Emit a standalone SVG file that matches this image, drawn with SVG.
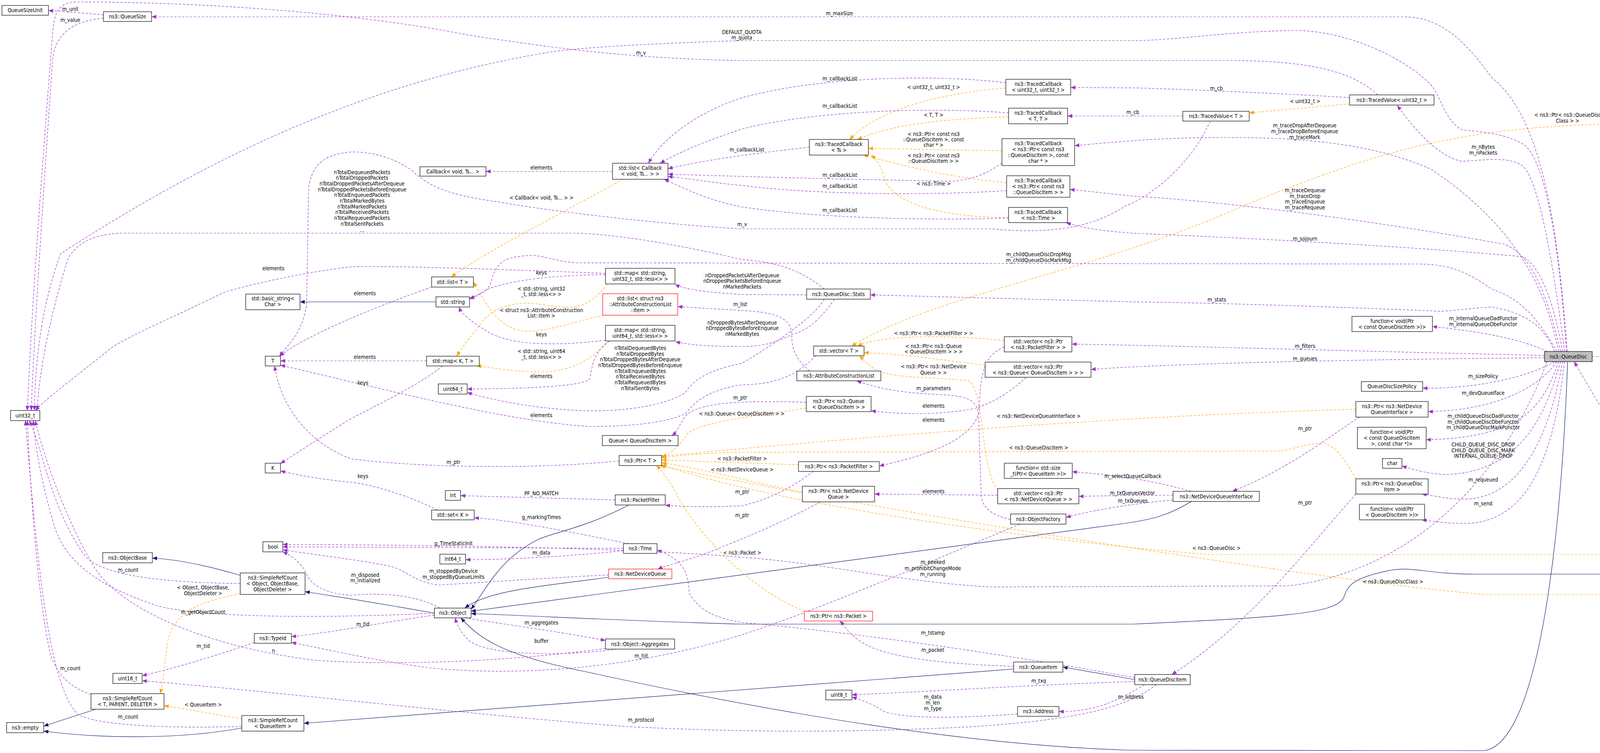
<svg xmlns="http://www.w3.org/2000/svg" width="5300" height="1928" viewBox="0 0 5300 1928">
<style>
text{font-family:"DejaVu Sans Condensed","DejaVu Sans","Liberation Sans",sans-serif;font-stretch:condensed;font-size:13.5px;fill:#000;text-anchor:middle}
.n rect{fill:#fff;stroke:#000;stroke-width:1.2}
.n.red rect{stroke:#ff0000}
.n.cur rect{fill:#bfbfbf}
.p{fill:none;stroke:#9a32cd;stroke-width:1.2;stroke-dasharray:6,4;marker-end:url(#ap)}
.o{fill:none;stroke:#ffa500;stroke-width:1.2;stroke-dasharray:6,4;marker-end:url(#ao)}
.b{fill:none;stroke:#191970;stroke-width:1.2;marker-end:url(#ab)}
</style>
<defs>
<marker id="ap" viewBox="0 0 12 10" refX="12" refY="5" markerWidth="12" markerHeight="10" markerUnits="userSpaceOnUse" orient="auto"><path d="M0,0 L12,5 L0,10z" fill="#9a32cd"/></marker>
<marker id="ao" viewBox="0 0 12 10" refX="12" refY="5" markerWidth="12" markerHeight="10" markerUnits="userSpaceOnUse" orient="auto"><path d="M0,0 L12,5 L0,10z" fill="#ffa500"/></marker>
<marker id="ab" viewBox="0 0 12 10" refX="12" refY="5" markerWidth="12" markerHeight="10" markerUnits="userSpaceOnUse" orient="auto"><path d="M0,0 L12,5 L0,10z" fill="#191970"/></marker>
</defs>
<rect width="5300" height="1928" fill="#fff"/>
<g id="edges">
<path class="b" d="M615,1473 C520,1445 450,1432 390,1429"/>
<path class="b" d="M1112,1570 C1000,1550 880,1530 781,1515"/>
<path class="b" d="M245,1816 L112,1859"/>
<path class="b" d="M619,1864 C450,1895 250,1890 112,1872"/>
<path class="b" d="M2595,1713 L778,1852"/>
<path class="b" d="M2905,1740 L2721,1708"/>
<path class="b" d="M1610,1293 C1500,1350 1430,1360 1380,1380 C1280,1430 1250,1500 1206,1560"/>
<path class="b" d="M1558,1478 C1400,1500 1250,1510 1190,1557"/>
<path class="b" d="M3050,1284 C2990,1320 2950,1330 2880,1340 L1206,1565"/>
<path class="b" d="M4013,926 C4000,1300 3950,1900 3800,1922 L2900,1921 C2500,1910 2000,1830 1500,1720 C1300,1680 1230,1640 1180,1582"/>
<path class="b" d="M4542,1445 C4450,1455 4350,1470 4200,1470 L3780,1470 C3650,1470 3620,1450 3560,1460 C3460,1480 3450,1500 3440,1530 C3420,1570 3300,1580 2900,1598 L1900,1598 C1600,1590 1400,1578 1206,1571"/>
<path class="b" d="M1116,773 L768,773"/>
<path class="o" d="M615,1520 C520,1540 450,1560 430,1640 C420,1700 420,1740 410,1776"/>
<path class="o" d="M619,1840 C550,1830 480,1815 420,1807"/>
<path class="o" d="M1595,459 C1450,540 1250,640 1155,709"/>
<path class="o" d="M1555,727 C1500,800 1450,790 1390,780 C1300,765 1250,800 1230,830 C1200,870 1180,890 1170,912"/>
<path class="o" d="M1545,807 C1450,830 1400,848 1350,848 C1280,845 1250,790 1212,722"/>
<path class="o" d="M1560,873 C1520,910 1480,950 1390,952 C1300,952 1260,940 1220,937"/>
<path class="o" d="M2575,225 C2400,240 2250,280 2175,357"/>
<path class="o" d="M2582,299 C2400,305 2280,320 2195,357"/>
<path class="o" d="M2565,386 L2223,380"/>
<path class="o" d="M2577,468 C2400,450 2300,420 2210,397"/>
<path class="o" d="M2582,557 C2350,555 2280,500 2265,460 C2255,420 2240,405 2230,397"/>
<path class="o" d="M3455,266 L3198,289"/>
<path class="o" d="M2571,872 C2400,855 2250,860 2195,886"/>
<path class="o" d="M2522,935 C2400,920 2300,905 2212,903"/>
<path class="o" d="M2554,1255 C2510,1200 2520,1000 2480,975 C2400,965 2300,970 2250,950 C2220,935 2210,920 2200,911"/>
<path class="o" d="M5190,893 C5160,500 5050,318 4700,318 L4100,318 C3700,330 3500,400 3200,520 C2800,700 2400,750 2180,886"/>
<path class="o" d="M2064,1045 C1900,1070 1800,1080 1760,1110 C1740,1140 1720,1160 1694,1170"/>
<path class="o" d="M2044,1190 L1694,1178"/>
<path class="o" d="M2054,1260 C1900,1230 1800,1200 1694,1185"/>
<path class="o" d="M2059,1565 C1900,1500 1780,1350 1740,1280 C1720,1240 1700,1210 1680,1192"/>
<path class="o" d="M3471,1048 C3000,1060 2400,1100 1694,1168"/>
<path class="o" d="M3471,1226 C3450,1190 3430,1150 3390,1135 C3340,1135 3300,1155 3267,1155 L1900,1158 C1800,1160 1750,1165 1694,1172"/>
<path class="o" d="M4198,1420 L3100,1420 C2800,1400 2000,1300 1694,1190"/>
<path class="o" d="M4840,1465 C4780,1500 4700,1522 4600,1522 L3800,1522 C3400,1490 2200,1300 1690,1192"/>
<path class="p" d="M265,38 C220,34 180,30 124,27"/>
<path class="p" d="M265,46 C190,55 145,80 135,150 C110,500 85,900 80,1051"/>
<path class="p" d="M4012,900 C3990,600 3950,300 3820,200 C3740,90 3680,43 3590,43 L388,43"/>
<path class="p" d="M4010,900 C3990,600 3950,390 3895,367 C3850,340 3780,337 3742,332 C3700,310 3690,250 3665,219 C3600,150 3450,78 3313,78 C3150,80 3000,104 2900,104 L1900,104 C1700,110 1500,120 1410,133 C1000,200 600,360 155,650 C100,800 90,950 88,1051"/>
<path class="p" d="M3527,243 C3480,200 3400,155 3150,155 L1900,155 C1600,150 1400,120 1200,90 C900,30 500,5 200,5 C150,5 140,30 135,80 C110,400 80,800 70,1051"/>
<path class="p" d="M3098,310 C3050,420 2950,500 2882,527 C2800,580 2700,601 2538,586 L1900,586 C1700,575 1400,540 1283,518 C1150,500 1100,480 1053,435 C1000,400 950,389 900,389 C830,395 800,420 790,480 L785,780 C775,850 740,880 715,912"/>
<path class="p" d="M2110,740 C2060,700 2000,670 1900,665 C1800,640 1600,600 1474,597 L310,597 C240,600 200,620 175,660 C130,800 100,950 95,1051"/>
<path class="p" d="M1560,873 C1520,900 1515,940 1510,970 C1500,985 1400,995 1196,996"/>
<path class="p" d="M2110,766 C2080,820 1950,900 1900,930 C1800,950 1770,980 1755,1005 C1700,1040 1600,1052 1512,1052 C1400,1050 1280,1030 1196,1005"/>
<path class="p" d="M2065,755 L1900,754 C1800,748 1750,740 1728,728"/>
<path class="p" d="M2136,766 C2100,820 2060,850 2028,856 C1980,880 1950,887 1900,887 C1800,887 1760,882 1729,875"/>
<path class="p" d="M2072,950 C2040,920 2027,900 2027,860 C2027,820 2000,800 1900,795 L1735,785"/>
<path class="p" d="M1105,735 C950,790 780,860 716,912"/>
<path class="p" d="M1092,924 L718,924"/>
<path class="p" d="M2088,911 C2050,950 2000,985 1900,985 C1800,1000 1770,1040 1755,1059 C1700,1085 1600,1092 1512,1092 C1300,1080 1000,1000 718,935"/>
<path class="p" d="M1585,1180 C1400,1200 1100,1200 900,1175 C800,1140 720,1050 703,937"/>
<path class="p" d="M615,1494 C450,1492 260,1480 215,1420 C130,1300 110,1150 75,1077"/>
<path class="p" d="M233,1778 C180,1760 150,1730 130,1680 C100,1550 80,1300 70,1077"/>
<path class="p" d="M619,1860 C450,1865 260,1860 200,1830 C130,1760 100,1500 65,1077"/>
<path class="p" d="M1112,1570 C800,1585 500,1580 400,1550 C250,1500 170,1440 140,1350 C110,1250 90,1150 85,1077"/>
<path class="p" d="M651,1645 C550,1680 450,1710 364,1730"/>
<path class="p" d="M1550,1660 C1300,1695 1000,1705 800,1690 C500,1650 300,1550 240,1450 C180,1350 120,1200 90,1077"/>
<path class="p" d="M1580,1662 C1450,1680 1250,1680 1200,1640 C1180,1620 1170,1600 1165,1582"/>
<path class="p" d="M1190,1582 C1300,1600 1450,1620 1550,1640"/>
<path class="p" d="M1112,1575 C1000,1590 850,1620 746,1630"/>
<path class="p" d="M2611,1342 C2400,1430 2100,1560 1900,1625 C1600,1720 1300,1730 1100,1710 C950,1690 850,1665 746,1645"/>
<path class="p" d="M1126,1557 C1080,1530 1000,1515 900,1524 C820,1520 790,1490 780,1460 C760,1430 740,1420 724,1413"/>
<path class="p" d="M1596,1404 L724,1400"/>
<path class="p" d="M1558,1472 C1400,1480 1250,1490 1123,1498 C1060,1490 1040,1460 1000,1450 C900,1430 800,1420 724,1408"/>
<path class="p" d="M3960,926 C3900,1100 3700,1450 3300,1500 L2538,1503 C2300,1490 2100,1440 1900,1427 C1600,1400 1000,1395 724,1394"/>
<path class="p" d="M1610,1392 C1450,1360 1300,1330 1214,1326"/>
<path class="p" d="M1120,1306 C1050,1270 950,1240 900,1235 C800,1225 760,1215 718,1206"/>
<path class="p" d="M2905,1735 C2600,1680 2200,1620 1900,1594 C1820,1580 1790,1560 1765,1520 C1760,1480 1765,1440 1682,1408"/>
<path class="p" d="M1133,937 C1080,980 1000,1020 900,1071 C820,1120 760,1160 718,1187"/>
<path class="p" d="M1550,703 C1400,705 1300,720 1250,740 C1230,750 1215,760 1202,766"/>
<path class="p" d="M1560,870 C1400,890 1300,880 1250,850 C1200,820 1180,800 1175,786"/>
<path class="p" d="M1568,439 L1244,439"/>
<path class="p" d="M2072,377 C1950,390 1800,410 1710,432"/>
<path class="p" d="M2575,212 C2400,190 2100,195 1900,250 C1750,300 1680,380 1660,418"/>
<path class="p" d="M2582,289 C2400,275 2100,280 1900,330 C1780,370 1720,400 1690,418"/>
<path class="p" d="M2565,418 C2530,440 2510,455 2442,464 C2200,460 2000,455 1710,446"/>
<path class="p" d="M2577,488 C2400,500 2100,500 1900,475 C1800,465 1750,455 1710,452"/>
<path class="p" d="M2582,558 C2400,565 2100,560 1900,530 C1800,510 1750,480 1700,459"/>
<path class="p" d="M3990,900 C3950,700 3850,560 3665,434 C3500,360 3300,352 3130,352 C3000,352 2900,359 2751,373"/>
<path class="p" d="M3995,900 C3960,750 3920,650 3850,625 C3600,580 3200,520 2900,502 L2739,485"/>
<path class="p" d="M4000,900 C3980,780 3940,670 3895,657 C3600,630 3200,610 2900,597 C2800,590 2760,580 2729,570"/>
<path class="p" d="M3455,250 C3300,240 3000,227 2900,225 L2741,224"/>
<path class="p" d="M3028,297 L2733,297"/>
<path class="p" d="M4005,900 C3980,700 3940,450 3895,423 C3860,400 3800,410 3742,413 C3680,400 3620,330 3577,270"/>
<path class="p" d="M3980,900 C3950,830 3900,800 3818,786 C3750,790 3700,800 3665,796 C3400,785 3100,775 2900,773 L2228,755"/>
<path class="p" d="M3985,900 C3930,800 3880,760 3818,740 C3750,690 3700,676 3627,676 L1474,673 C1420,668 1390,654 1359,654 C1310,656 1290,665 1283,673 C1265,690 1260,710 1257,723 C1250,745 1230,755 1202,764"/>
<path class="p" d="M3960,900 C3900,870 3800,850 3667,836"/>
<path class="p" d="M3954,910 C3500,900 3000,885 2744,881"/>
<path class="p" d="M3954,916 C3500,920 3000,930 2793,946"/>
<path class="p" d="M3980,926 C3920,960 3800,995 3642,994"/>
<path class="p" d="M3985,926 C3950,980 3850,1050 3656,1054"/>
<path class="p" d="M3990,926 C3950,1040 3900,1120 3651,1126"/>
<path class="p" d="M3995,926 C3960,1050 3900,1210 3700,1215 C3650,1213 3610,1200 3589,1193"/>
<path class="p" d="M4000,926 C3970,1100 3900,1275 3750,1278 C3700,1278 3680,1270 3640,1265"/>
<path class="p" d="M4005,926 C3980,1150 3920,1340 3750,1340 C3700,1340 3670,1335 3640,1331"/>
<path class="p" d="M4076,913 L5091,913"/>
<path class="p" d="M4290,1407 C4200,1200 4100,1050 4030,926"/>
<path class="p" d="M4542,1440 L4401,1428"/>
<path class="p" d="M4791,1445 L4701,1445"/>
<path class="p" d="M5180,934 C5100,1100 5000,1300 4900,1425"/>
<path class="p" d="M3480,1068 C3400,1120 3300,1200 3155,1258"/>
<path class="p" d="M3471,1265 C3350,1400 3200,1600 3000,1727"/>
<path class="p" d="M3003,1268 C2900,1268 2850,1269 2762,1271"/>
<path class="p" d="M3050,1258 C2950,1230 2850,1215 2745,1208"/>
<path class="p" d="M3003,1280 C2900,1290 2800,1305 2729,1325"/>
<path class="p" d="M2554,1268 L2239,1265"/>
<path class="p" d="M2627,966 C2580,1010 2540,1030 2500,1045 C2400,1065 2300,1060 2230,1052"/>
<path class="p" d="M2571,888 C2520,910 2510,950 2506,1055 C2490,1120 2400,1160 2251,1193"/>
<path class="p" d="M2082,1207 C2050,1230 2000,1270 1900,1295 C1800,1300 1750,1296 1703,1294"/>
<path class="p" d="M2100,1285 C2000,1340 1900,1380 1800,1420 C1740,1440 1700,1450 1684,1457"/>
<path class="p" d="M2064,1030 C1900,1025 1800,1030 1760,1060 C1740,1080 1740,1100 1720,1115"/>
<path class="p" d="M1575,1280 L1179,1269"/>
<path class="p" d="M1596,1410 C1450,1425 1300,1433 1192,1433"/>
<path class="p" d="M2595,1706 C2400,1700 2250,1680 2200,1640 C2170,1620 2160,1600 2150,1590"/>
<path class="p" d="M2905,1745 C2600,1755 2400,1770 2181,1779"/>
<path class="p" d="M2605,1828 C2450,1840 2300,1840 2260,1820 C2230,1800 2200,1790 2181,1785"/>
<path class="p" d="M2930,1753 C2850,1800 2800,1822 2711,1822"/>
<path class="p" d="M2960,1753 C2900,1800 2800,1840 2500,1860 C2200,1876 1900,1876 1600,1860 C1200,1830 700,1770 364,1743"/>
<path class="p" d="M2587,1330 C2540,1320 2515,1300 2512,1270 L2505,1060 C2500,1020 2470,1013 2400,1010 C2300,1005 2250,995 2193,975"/>
<path class="p" d="M1550,700 C1300,690 1000,680 900,683 C750,700 600,740 574,748 C450,810 350,850 287,889 C200,960 130,1010 90,1051"/>
</g>
<g id="edge-labels">
<text x="180" y="28">m_unit</text>
<text x="180" y="56">m_value</text>
<text x="2149" y="39">m_maxSize</text>
<text x="1899" y="87">DEFAULT_QUOTA</text><text x="1899" y="101">m_quota</text>
<text x="1641" y="140">m_v</text>
<text x="927" y="446">nTotalDequeuedPackets</text><text x="927" y="460">nTotalDroppedPackets</text><text x="927" y="475">nTotalDroppedPacketsAfterDequeue</text><text x="927" y="490">nTotalDroppedPacketsBeforeEnqueue</text><text x="927" y="504">nTotalEnqueuedPackets</text><text x="927" y="519">nTotalMarkedBytes</text><text x="927" y="534">nTotalMarkedPackets</text><text x="927" y="548">nTotalReceivedPackets</text><text x="927" y="563">nTotalRequeuedPackets</text><text x="927" y="578">nTotalSentPackets</text><text x="927" y="594">...</text>
<text x="1386" y="434">elements</text>
<text x="1386" y="511">&lt; Callback&lt; void, Ts... &gt; &gt;</text>
<text x="1912" y="388">m_callbackList</text>
<text x="2150" y="206">m_callbackList</text><text x="2150" y="276">m_callbackList</text><text x="2150" y="453">m_callbackList</text><text x="2150" y="481">m_callbackList</text><text x="2150" y="543">m_callbackList</text>
<text x="2390" y="228">&lt; uint32_t, uint32_t &gt;</text>
<text x="2390" y="299">&lt; T, T &gt;</text>
<text x="2390" y="348">&lt; ns3::Ptr&lt; const ns3</text><text x="2390" y="362">::QueueDiscItem &gt;, const</text><text x="2390" y="376">char * &gt;</text>
<text x="2390" y="403">&lt; ns3::Ptr&lt; const ns3</text><text x="2390" y="417">::QueueDiscItem &gt; &gt;</text>
<text x="2390" y="475">&lt; ns3::Time &gt;</text>
<text x="1900" y="579">m_v</text>
<text x="3114" y="231">m_cb</text>
<text x="3341" y="264">&lt; uint32_t &gt;</text>
<text x="2900" y="292">m_cb</text>
<text x="3340" y="326">m_traceDropAfterDequeue</text><text x="3340" y="341">m_traceDropBeforeEnqueue</text><text x="3340" y="356">m_traceMark</text>
<text x="3797" y="381">m_nBytes</text><text x="3797" y="396">m_nPackets</text>
<text x="4013" y="299">&lt; ns3::Ptr&lt; ns3::QueueDisc</text><text x="4013" y="314">Class &gt; &gt;</text>
<text x="3341" y="492">m_traceDequeue</text><text x="3341" y="507">m_traceDrop</text><text x="3341" y="521">m_traceEnqueue</text><text x="3341" y="536">m_traceRequeue</text>
<text x="3341" y="616">m_sojourn</text>
<text x="3115" y="772">m_stats</text>
<text x="2659" y="656">m_childQueueDiscDropMsg</text><text x="2659" y="671">m_childQueueDiscMarkMsg</text>
<text x="1900" y="710">nDroppedPacketsAfterDequeue</text><text x="1900" y="724">nDroppedPacketsBeforeEnqueue</text><text x="1900" y="739">nMarkedPackets</text>
<text x="1895" y="784">m_list</text>
<text x="1900" y="831">nDroppedBytesAfterDequeue</text><text x="1900" y="845">nDroppedBytesBeforeEnqueue</text><text x="1900" y="860">nMarkedBytes</text>
<text x="700" y="692">elements</text>
<text x="1386" y="703">keys</text>
<text x="1386" y="744">&lt; std::string, uint32</text><text x="1386" y="758">_t, std::less&lt;&gt; &gt;</text>
<text x="934" y="756">elements</text>
<text x="1386" y="799">&lt; struct ns3::AttributeConstruction</text><text x="1386" y="813">List::Item &gt;</text>
<text x="1386" y="861">keys</text>
<text x="1386" y="904">&lt; std::string, uint64</text><text x="1386" y="919">_t, std::less&lt;&gt; &gt;</text>
<text x="934" y="919">elements</text>
<text x="1639" y="896">nTotalDequeuedBytes</text><text x="1639" y="911">nTotalDroppedBytes</text><text x="1639" y="925">nTotalDroppedBytesAfterDequeue</text><text x="1639" y="940">nTotalDroppedBytesBeforeEnqueue</text><text x="1639" y="955">nTotalEnqueuedBytes</text><text x="1639" y="969">nTotalReceivedBytes</text><text x="1639" y="984">nTotalRequeuedBytes</text><text x="1639" y="999">nTotalSentBytes</text>
<text x="1386" y="968">elements</text>
<text x="929" y="985">keys</text>
<text x="1386" y="1068">elements</text>
<text x="1161" y="1188">m_ptr</text>
<text x="929" y="1224">keys</text>
<text x="1386" y="1268">PF_NO_MATCH</text>
<text x="2390" y="858">&lt; ns3::Ptr&lt; ns3::PacketFilter &gt; &gt;</text>
<text x="2390" y="891">&lt; ns3::Ptr&lt; ns3::Queue</text><text x="2390" y="905">&lt; QueueDiscItem &gt; &gt; &gt;</text>
<text x="2390" y="943">&lt; ns3::Ptr&lt; ns3::NetDevice</text><text x="2390" y="959">Queue &gt; &gt;</text>
<text x="2390" y="999">m_parameters</text>
<text x="2390" y="1044">elements</text>
<text x="2390" y="1080">elements</text>
<text x="1895" y="1023">m_ptr</text>
<text x="1899" y="1064">&lt; ns3::Queue&lt; QueueDiscItem &gt; &gt;</text>
<text x="2659" y="1070">&lt; ns3::NetDeviceQueueInterface &gt;</text>
<text x="1900" y="1179">&lt; ns3::PacketFilter &gt;</text>
<text x="1900" y="1207">&lt; ns3::NetDeviceQueue &gt;</text>
<text x="2659" y="1151">&lt; ns3::QueueDiscItem &gt;</text>
<text x="2390" y="1263">elements</text>
<text x="1900" y="1264">m_ptr</text>
<text x="1900" y="1324">m_ptr</text>
<text x="2900" y="1224">m_selectQueueCallback</text>
<text x="2899" y="1267">m_txQueuesVector</text>
<text x="2900" y="1287">m_txQueues</text>
<text x="1900" y="1420">&lt; ns3::Packet &gt;</text>
<text x="2388" y="1444">m_peeked</text><text x="2388" y="1460">m_prohibitChangeMode</text><text x="2388" y="1475">m_running</text>
<text x="2388" y="1625">m_tstamp</text>
<text x="2388" y="1669">m_packet</text>
<text x="2659" y="1748">m_txq</text>
<text x="2388" y="1789">m_data</text><text x="2388" y="1804">m_len</text><text x="2388" y="1819">m_type</text>
<text x="2895" y="1789">m_address</text>
<text x="1386" y="1329">g_markingTimes</text>
<text x="1161" y="1396">g_TimeStaticInit</text>
<text x="1386" y="1420">m_data</text>
<text x="1161" y="1467">m_stoppedByDevice</text><text x="1161" y="1482">m_stoppedByQueueLimits</text>
<text x="935" y="1477">m_disposed</text><text x="935" y="1491">m_initialized</text>
<text x="929" y="1603">m_tid</text>
<text x="1386" y="1599">m_aggregates</text>
<text x="1386" y="1646">buffer</text>
<text x="1641" y="1684">m_tid</text>
<text x="1641" y="1848">m_protocol</text>
<text x="328" y="1464">m_count</text>
<text x="520" y="1509">&lt; Object, ObjectBase,</text><text x="520" y="1524">ObjectDeleter &gt;</text>
<text x="520" y="1572">m_getObjectCount</text>
<text x="520" y="1659">m_tid</text>
<text x="700" y="1671">n</text>
<text x="180" y="1716">m_count</text>
<text x="520" y="1809">&lt; QueueItem &gt;</text>
<text x="328" y="1840">m_count</text>
<text x="3797" y="820">m_internalQueueDadFunctor</text><text x="3797" y="835">m_internalQueueDbeFunctor</text>
<text x="3341" y="891">m_filters</text>
<text x="3341" y="923">m_queues</text>
<text x="3797" y="968">m_sizePolicy</text>
<text x="3797" y="1011">m_devQueueIface</text>
<text x="3797" y="1070">m_childQueueDiscDadFunctor</text><text x="3797" y="1085">m_childQueueDiscDbeFunctor</text><text x="3797" y="1099">m_childQueueDiscMarkFunctor</text>
<text x="3797" y="1143">CHILD_QUEUE_DISC_DROP</text><text x="3797" y="1158">CHILD_QUEUE_DISC_MARK</text><text x="3797" y="1172">INTERNAL_QUEUE_DROP</text>
<text x="3797" y="1233">m_requeued</text>
<text x="3797" y="1294">m_send</text>
<text x="3341" y="1102">m_ptr</text>
<text x="3341" y="1292">m_ptr</text>
<text x="3114" y="1408">&lt; ns3::QueueDisc &gt;</text>
<text x="3566" y="1494">&lt; ns3::QueueDiscClass &gt;</text>
<text x="4623" y="908">m_classes</text>
<text x="4155" y="1117">m_ptr</text>
<text x="5037" y="1128">elements</text>
<text x="4473" y="1424">m_queueDisc</text>
<text x="4748" y="1441">m_ptr</text>
</g>
<g id="QueueSizeUnit" class="n"><rect x="5" y="14" width="119" height="25"/><text x="64.5" y="31">QueueSizeUnit</text></g>
<g id="QueueSize" class="n"><rect x="265" y="30" width="123" height="25"/><text x="326.5" y="47">ns3::QueueSize</text></g>
<g id="basic_string" class="n"><rect x="629" y="753" width="139" height="40"/><text x="698.5" y="769">std::basic_string&lt;</text><text x="698.5" y="784">Char &gt;</text></g>
<g id="T" class="n"><rect x="679" y="912" width="39" height="25"/><text x="698.5" y="929">T</text></g>
<g id="uint32_t" class="n"><rect x="27" y="1051" width="75" height="26"/><text x="64.5" y="1068.5">uint32_t</text></g>
<g id="K" class="n"><rect x="679" y="1186" width="39" height="25"/><text x="698.5" y="1203">K</text></g>
<g id="bool" class="n"><rect x="673" y="1387" width="51" height="26"/><text x="698.5" y="1404.5">bool</text></g>
<g id="ObjectBase" class="n"><rect x="263" y="1415" width="127" height="26"/><text x="326.5" y="1432.5">ns3::ObjectBase</text></g>
<g id="SRC_Object" class="n"><rect x="615" y="1467" width="166" height="55"/><text x="698" y="1484">ns3::SimpleRefCount</text><text x="698" y="1499">&lt; Object, ObjectBase,</text><text x="698" y="1514">ObjectDeleter &gt;</text></g>
<g id="TypeId" class="n"><rect x="651" y="1622" width="95" height="25"/><text x="698.5" y="1639">ns3::TypeId</text></g>
<g id="uint16_t" class="n"><rect x="289" y="1724" width="75" height="26"/><text x="326.5" y="1741.5">uint16_t</text></g>
<g id="SRC_T" class="n"><rect x="233" y="1776" width="187" height="40"/><text x="326.5" y="1792.5">ns3::SimpleRefCount</text><text x="326.5" y="1807.5">&lt; T, PARENT, DELETER &gt;</text></g>
<g id="SRC_QueueItem" class="n"><rect x="619" y="1832" width="159" height="40"/><text x="698.5" y="1848.5">ns3::SimpleRefCount</text><text x="698.5" y="1863.5">&lt; QueueItem &gt;</text></g>
<g id="empty" class="n"><rect x="17" y="1850" width="95" height="26"/><text x="64.5" y="1867.5">ns3::empty</text></g>
<g id="Callback" class="n"><rect x="1075" y="427" width="169" height="24"/><text x="1159.5" y="443.5">Callback&lt; void, Ts... &gt;</text></g>
<g id="listCallback" class="n"><rect x="1568" y="418" width="142" height="41"/><text x="1639" y="435">std::list&lt; Callback</text><text x="1639" y="450">&lt; void, Ts... &gt; &gt;</text></g>
<g id="listT" class="n"><rect x="1105" y="709" width="107" height="26"/><text x="1158.5" y="726.5">std::list&lt; T &gt;</text></g>
<g id="string" class="n"><rect x="1116" y="760" width="86" height="26"/><text x="1159" y="777.5">std::string</text></g>
<g id="map_u32" class="n"><rect x="1550" y="687" width="178" height="40"/><text x="1639" y="703.5">std::map&lt; std::string,</text><text x="1639" y="718.5">uint32_t, std::less&lt;&gt; &gt;</text></g>
<g id="list_item" class="n red"><rect x="1543" y="752" width="192" height="55"/><text x="1639" y="769">std::list&lt; struct ns3</text><text x="1639" y="784">::AttributeConstructionList</text><text x="1639" y="799">::Item &gt;</text></g>
<g id="map_u64" class="n"><rect x="1550" y="833" width="178" height="40"/><text x="1639" y="849.5">std::map&lt; std::string,</text><text x="1639" y="864.5">uint64_t, std::less&lt;&gt; &gt;</text></g>
<g id="mapKT" class="n"><rect x="1092" y="912" width="135" height="25"/><text x="1159.5" y="929">std::map&lt; K, T &gt;</text></g>
<g id="uint64_t" class="n"><rect x="1122" y="983" width="74" height="26"/><text x="1159" y="1000.5">uint64_t</text></g>
<g id="QueueQDI" class="n"><rect x="1542" y="1115" width="194" height="26"/><text x="1639" y="1132.5">Queue&lt; QueueDiscItem &gt;</text></g>
<g id="PtrT" class="n"><rect x="1585" y="1166" width="109" height="26"/><text x="1639.5" y="1183.5">ns3::Ptr&lt; T &gt;</text></g>
<g id="int" class="n"><rect x="1140" y="1256" width="39" height="25"/><text x="1159.5" y="1273">int</text></g>
<g id="PacketFilter" class="n"><rect x="1575" y="1267" width="128" height="26"/><text x="1639" y="1284.5">ns3::PacketFilter</text></g>
<g id="setK" class="n"><rect x="1105" y="1306" width="109" height="25"/><text x="1159.5" y="1323">std::set&lt; K &gt;</text></g>
<g id="Time" class="n"><rect x="1596" y="1392" width="86" height="25"/><text x="1639" y="1409">ns3::Time</text></g>
<g id="int64_t" class="n"><rect x="1126" y="1419" width="66" height="25"/><text x="1159" y="1436">int64_t</text></g>
<g id="NetDeviceQueue" class="n red"><rect x="1558" y="1457" width="162" height="25"/><text x="1639" y="1474">ns3::NetDeviceQueue</text></g>
<g id="Object" class="n"><rect x="1112" y="1557" width="94" height="25"/><text x="1159" y="1574">ns3::Object</text></g>
<g id="Aggregates" class="n"><rect x="1550" y="1636" width="177" height="26"/><text x="1638.5" y="1653.5">ns3::Object::Aggregates</text></g>
<g id="TC_u32" class="n"><rect x="2575" y="203" width="166" height="40"/><text x="2658" y="219.5">ns3::TracedCallback</text><text x="2658" y="234.5">&lt; uint32_t, uint32_t &gt;</text></g>
<g id="TC_TT" class="n"><rect x="2582" y="277" width="151" height="40"/><text x="2657.5" y="293.5">ns3::TracedCallback</text><text x="2657.5" y="308.5">&lt; T, T &gt;</text></g>
<g id="TC_Ts" class="n"><rect x="2072" y="357" width="151" height="40"/><text x="2147.5" y="373.5">ns3::TracedCallback</text><text x="2147.5" y="388.5">&lt; Ts &gt;</text></g>
<g id="TC_ptr_char" class="n"><rect x="2565" y="355" width="186" height="69"/><text x="2658" y="371.5">ns3::TracedCallback</text><text x="2658" y="386.5">&lt; ns3::Ptr&lt; const ns3</text><text x="2658" y="401.5">::QueueDiscItem &gt;, const</text><text x="2658" y="416.5">char * &gt;</text></g>
<g id="TC_ptr" class="n"><rect x="2577" y="450" width="162" height="55"/><text x="2658" y="467">ns3::TracedCallback</text><text x="2658" y="482">&lt; ns3::Ptr&lt; const ns3</text><text x="2658" y="497">::QueueDiscItem &gt; &gt;</text></g>
<g id="TC_time" class="n"><rect x="2582" y="531" width="151" height="39"/><text x="2657.5" y="547.5">ns3::TracedCallback</text><text x="2657.5" y="562.5">&lt; ns3::Time &gt;</text></g>
<g id="Stats" class="n"><rect x="2065" y="740" width="163" height="26"/><text x="2146.5" y="757.5">ns3::QueueDisc::Stats</text></g>
<g id="vectorT" class="n"><rect x="2083" y="886" width="129" height="25"/><text x="2147.5" y="903">std::vector&lt; T &gt;</text></g>
<g id="ACL" class="n"><rect x="2040" y="950" width="215" height="25"/><text x="2147.5" y="967">ns3::AttributeConstructionList</text></g>
<g id="vec_pf" class="n"><rect x="2571" y="862" width="173" height="39"/><text x="2657.5" y="878.5">std::vector&lt; ns3::Ptr</text><text x="2657.5" y="893.5">&lt; ns3::PacketFilter &gt; &gt;</text></g>
<g id="vec_q" class="n"><rect x="2522" y="927" width="271" height="39"/><text x="2657.5" y="943.5">std::vector&lt; ns3::Ptr</text><text x="2657.5" y="958.5">&lt; ns3::Queue&lt; QueueDiscItem &gt; &gt; &gt;</text></g>
<g id="Ptr_Queue" class="n"><rect x="2064" y="1015" width="166" height="39"/><text x="2147" y="1031.5">ns3::Ptr&lt; ns3::Queue</text><text x="2147" y="1046.5">&lt; QueueDiscItem &gt; &gt;</text></g>
<g id="Ptr_PF" class="n"><rect x="2044" y="1182" width="207" height="25"/><text x="2147.5" y="1199">ns3::Ptr&lt; ns3::PacketFilter &gt;</text></g>
<g id="Ptr_NDQ" class="n"><rect x="2054" y="1245" width="185" height="40"/><text x="2146.5" y="1261.5">ns3::Ptr&lt; ns3::NetDevice</text><text x="2146.5" y="1276.5">Queue &gt;</text></g>
<g id="func_size" class="n"><rect x="2571" y="1186" width="174" height="39"/><text x="2658" y="1202.5">function&lt; std::size</text><text x="2658" y="1217.5">_t(Ptr&lt; QueueItem &gt;)&gt;</text></g>
<g id="vec_ndq" class="n"><rect x="2554" y="1251" width="208" height="39"/><text x="2658" y="1267.5">std::vector&lt; ns3::Ptr</text><text x="2658" y="1282.5">&lt; ns3::NetDeviceQueue &gt; &gt;</text></g>
<g id="ObjectFactory" class="n"><rect x="2587" y="1316" width="142" height="26"/><text x="2658" y="1333.5">ns3::ObjectFactory</text></g>
<g id="Ptr_Packet" class="n red"><rect x="2059" y="1565" width="175" height="25"/><text x="2146.5" y="1582">ns3::Ptr&lt; ns3::Packet &gt;</text></g>
<g id="QueueItem" class="n"><rect x="2595" y="1695" width="126" height="26"/><text x="2658" y="1712.5">ns3::QueueItem</text></g>
<g id="uint8_t" class="n"><rect x="2114" y="1767" width="67" height="25"/><text x="2147.5" y="1784">uint8_t</text></g>
<g id="Address" class="n"><rect x="2605" y="1809" width="106" height="25"/><text x="2658" y="1826">ns3::Address</text></g>
<g id="TV_u32" class="n"><rect x="3455" y="243" width="216" height="26"/><text x="3563" y="260.5">ns3::TracedValue&lt; uint32_t &gt;</text></g>
<g id="TV_T" class="n"><rect x="3028" y="285" width="170" height="25"/><text x="3113" y="302">ns3::TracedValue&lt; T &gt;</text></g>
<g id="func_dad" class="n"><rect x="3461" y="810" width="206" height="39"/><text x="3564" y="826.5">function&lt; void(Ptr</text><text x="3564" y="841.5">&lt; const QueueDiscItem &gt;)&gt;</text></g>
<g id="QueueDisc" class="n cur"><rect x="3954" y="900" width="122" height="26"/><text x="4015" y="917.5">ns3::QueueDisc</text></g>
<g id="SizePolicy" class="n"><rect x="3485" y="977" width="157" height="25"/><text x="3563.5" y="994">QueueDiscSizePolicy</text></g>
<g id="Ptr_NDQI" class="n"><rect x="3471" y="1028" width="185" height="40"/><text x="3563.5" y="1044.5">ns3::Ptr&lt; ns3::NetDevice</text><text x="3563.5" y="1059.5">QueueInterface &gt;</text></g>
<g id="func_child" class="n"><rect x="3475" y="1094" width="176" height="55"/><text x="3563" y="1111">function&lt; void(Ptr</text><text x="3563" y="1126">&lt; const QueueDiscItem</text><text x="3563" y="1141">&gt;, const char *)&gt;</text></g>
<g id="char" class="n"><rect x="3539" y="1174" width="50" height="25"/><text x="3564" y="1191">char</text></g>
<g id="Ptr_QDI" class="n"><rect x="3471" y="1226" width="185" height="39"/><text x="3563.5" y="1242.5">ns3::Ptr&lt; ns3::QueueDisc</text><text x="3563.5" y="1257.5">Item &gt;</text></g>
<g id="func_send" class="n"><rect x="3480" y="1291" width="167" height="40"/><text x="3563.5" y="1307.5">function&lt; void(Ptr</text><text x="3563.5" y="1322.5">&lt; QueueDiscItem &gt;)&gt;</text></g>
<g id="NDQI" class="n"><rect x="3003" y="1258" width="221" height="26"/><text x="3113.5" y="1275.5">ns3::NetDeviceQueueInterface</text></g>
<g id="vec_qdc" class="n"><rect x="5091" y="893" width="203" height="41"/><text x="5192.5" y="910">std::vector&lt; ns3::Ptr</text><text x="5192.5" y="925">&lt; ns3::QueueDiscClass &gt; &gt;</text></g>
<g id="Ptr_QD" class="n"><rect x="4198" y="1407" width="203" height="26"/><text x="4299.5" y="1424.5">ns3::Ptr&lt; ns3::QueueDisc &gt;</text></g>
<g id="QDC" class="n"><rect x="4542" y="1432" width="159" height="26"/><text x="4621.5" y="1449.5">ns3::QueueDiscClass</text></g>
<g id="Ptr_QDC" class="n"><rect x="4791" y="1425" width="187" height="40"/><text x="4884.5" y="1441.5">ns3::Ptr&lt; ns3::QueueDisc</text><text x="4884.5" y="1456.5">Class &gt;</text></g>
<g id="QueueDiscItem" class="n"><rect x="2905" y="1727" width="142" height="26"/><text x="2976" y="1744.5">ns3::QueueDiscItem</text></g>
</svg>
